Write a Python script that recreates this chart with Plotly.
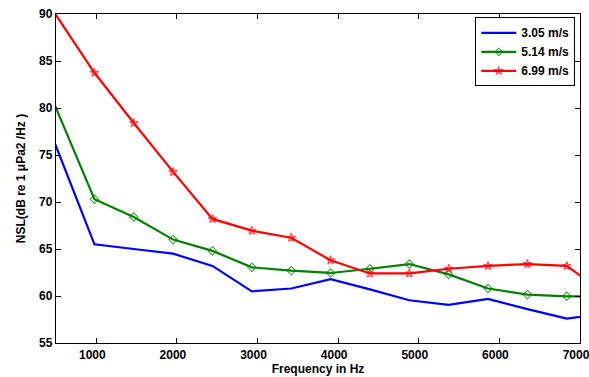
import plotly.graph_objects as go

freqs = [488, 977, 1465, 1953, 2441, 2930, 3418, 3906, 4395, 4883, 5371, 5859, 6348, 6836, 7324]
nsl_305 = [76.2, 65.5, 65.0, 64.5, 63.2, 60.5, 60.8, 61.8, 60.7, 59.55, 59.05, 59.7, 58.6, 57.6, 58.1]
nsl_514 = [80.25, 70.3, 68.4, 66.0, 64.8, 63.05, 62.7, 62.45, 62.9, 63.4, 62.3, 60.8, 60.15, 59.97, 59.95]
nsl_699 = [90.05, 83.75, 78.4, 73.2, 68.2, 66.95, 66.2, 63.8, 62.4, 62.4, 62.9, 63.2, 63.4, 63.2, 60.2]
x_ticks = [1000, 2000, 3000, 4000, 5000, 6000, 7000]
y_ticks = [55, 60, 65, 70, 75, 80, 85, 90]

series = [
    ("3.05 m/s", nsl_305, "#0000ff", None),
    ("5.14 m/s", nsl_514, "#008000", "diamond-open"),
    ("6.99 m/s", nsl_699, "#ff0000", "star-open"),
]

# end points lie outside the axis limits: no visible marker there
msize = [0] + [6.5] * (len(freqs) - 2) + [0]

fig = go.Figure()
for name, vals, color, sym in series:
    if sym is None:
        fig.add_trace(go.Scatter(x=freqs, y=vals, name=name, mode="lines",
                                 line=dict(color=color, width=2.2)))
    else:
        fig.add_trace(go.Scatter(x=freqs, y=vals, name=name, mode="lines+markers",
                                 line=dict(color=color, width=2.2),
                                 marker=dict(symbol=sym, size=msize, color=color,
                                             line=dict(color=color, width=1.2))))

font_family = "Liberation Sans, Arial, sans-serif"
axis_common = dict(
    showline=True, linecolor="black", linewidth=1.3, mirror="ticks",
    ticks="inside", ticklen=5, tickcolor="black", tickwidth=1,
    showgrid=False, zeroline=False, automargin=False,
    tickfont=dict(family=font_family, size=12, color="black", weight="bold"),
)

fig.update_layout(
    width=589, height=377,
    margin=dict(l=56, r=9, t=14, b=34),
    paper_bgcolor="white", plot_bgcolor="white",
    font=dict(family=font_family, color="black"),
    xaxis=dict(range=[500, 7000], tickvals=x_ticks,
               ticklabelshift=-4, ticklabelstandoff=0, ticklabeloverflow="allow",
               title=dict(text="Frequency in Hz", standoff=2,
                          font=dict(family=font_family, size=12, color="black", weight="bold")),
               **axis_common),
    yaxis=dict(range=[55, 90], tickvals=y_ticks,
               title=dict(text="NSL(dB re 1 μPa2 /Hz )", standoff=10,
                          font=dict(family=font_family, size=12, color="black", weight="bold")),
               **axis_common),
    legend=dict(x=0.991, y=0.99, xanchor="right", yanchor="top",
                bgcolor="white", bordercolor="black", borderwidth=1,
                font=dict(family=font_family, size=12, color="black", weight="bold"),
                tracegroupgap=0, itemwidth=35),
    showlegend=True,
)

fig.write_html("out.html")
